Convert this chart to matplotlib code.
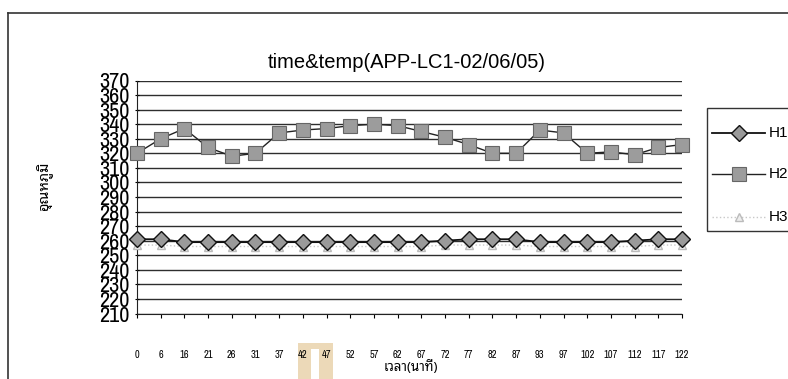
import numpy as np
import matplotlib
matplotlib.use("Agg")
import matplotlib.pyplot as plt
from matplotlib.patches import Rectangle
from matplotlib.lines import Line2D

# casy merania (minuty) a teploty troch sond
cas = ["0", "6", "16", "21", "26", "31", "37", "42", "47", "52", "57", "62",
       "67", "72", "77", "82", "87", "93", "97", "102", "107", "112", "117", "122"]
h1 = [261, 261, 259, 259, 259, 259, 259, 259, 259, 259, 259, 259,
      259, 260, 261, 261, 261, 259, 259, 259, 259, 260, 261, 261]
h2 = [320, 330, 337, 324, 318, 320, 334, 336, 337, 339, 340, 339,
      335, 331, 326, 320, 320, 336, 334, 320, 321, 319, 324, 326]
h3 = [257, 257, 256, 256, 256, 256, 256, 256, 256, 256, 256, 256,
      256, 257, 257, 257, 257, 256, 256, 256, 256, 256, 257, 257]
nazvy = ["H1", "H2", "H3"]

plt.rcParams['font.family'] = ['Liberation Sans', 'DejaVu Sans']
thai = ['Noto Sans Thai Looped', 'Noto Sans Thai', 'DejaVu Sans']
uzke = ['Archivo Narrow', 'Roboto Condensed', 'Liberation Sans']

# styly ciar
st1 = dict(color='#111', linewidth=1.3, marker='D', markersize=8,
           markerfacecolor='#9a9a9a', markeredgecolor='#111', markeredgewidth=1.0)
st2 = dict(color='#222', linewidth=1.0, marker='s', markersize=10,
           markerfacecolor='#9c9c9c', markeredgecolor='#666', markeredgewidth=0.8)
st3 = dict(color='#c8c8c8', linewidth=1.0, linestyle=':', marker='^', markersize=6,
           markerfacecolor='#eeeeee', markeredgecolor='#bbbbbb')

fig = plt.figure(figsize=(7.88, 3.79), dpi=100)
ax = fig.add_axes([137/788, 1 - 313.5/379, 545/788, 233/379])

x = np.arange(len(cas))

# mriezka a osi
ax.set_ylim(210, 370)
ax.set_xlim(0, len(cas) - 1)
ax.set_yticks(np.arange(210, 371, 10))
ax.grid(axis='y', color='#2e2e2e', linewidth=1.0)
ax.set_axisbelow(True)
for s in ['top', 'right']:
    ax.spines[s].set_visible(False)
ax.spines['left'].set_color('#222')
ax.spines['bottom'].set_color('#222')

# tri serie
ax.plot(x, h3, clip_on=False, zorder=3, label='H3', **st3)
ax.plot(x, h1, clip_on=False, zorder=4, label='H1', **st1)
ax.plot(x, h2, clip_on=False, zorder=5, label='H2', **st2)

ax.set_xticks(x)
ax.set_xticklabels(cas, fontsize=7.5, family=uzke)
ax.tick_params(axis='x', length=3, direction='out', pad=23)
ax.tick_params(axis='y', length=3, direction='inout', pad=4)
for t in ax.get_yticklabels():
    t.set_fontsize(16)
    t.set_family(uzke)

# popisky
fig.text(407/788, 1 - 63/379, "time&temp(APP-LC1-02/06/05)", fontsize=14.5,
         ha='center', va='center')
fig.text(411/788, 1 - 367/379, "เวลา(นาที)", fontsize=9.5, fontweight='bold',
         family=thai, ha='center', va='center')
fig.text(45/788, 1 - 186/379, "อุณหภูมิ", fontsize=10.5, fontweight='bold',
         family=thai, rotation=90, ha='center', va='center')

# legenda vpravo
fig.add_artist(Rectangle((707/788, 1 - 231/379), 100/788, 123/379, fill=False,
                         edgecolor='#333', linewidth=1.0))
for meno, st, yy in zip(nazvy, [st1, st2, st3], [133, 174, 217]):
    yf = 1 - yy/379
    fig.add_artist(Line2D([712/788, 765/788], [yf, yf], **{k: v for k, v in st.items() if not k.startswith('marker')}))
    fig.add_artist(Line2D([739/788], [yf], **st))
    fig.text(769/788, yf, meno, fontsize=11, ha='left', va='center')

# ramcek grafu
fig.add_artist(Line2D([8/788, 1], [1 - 13/379] * 2, color='#333', lw=1.2))
fig.add_artist(Line2D([8/788] * 2, [0, 1 - 13/379], color='#333', lw=1.2))

# peciatka pod osou
fig.add_artist(Rectangle((298/788, 0), 35/788, 36/379, color='#ecd9b8', lw=0, zorder=0))
fig.add_artist(Rectangle((311/788, 0), 8/788, 30/379, color='white', lw=0, zorder=0))

fig.savefig("out.png", dpi=100)
